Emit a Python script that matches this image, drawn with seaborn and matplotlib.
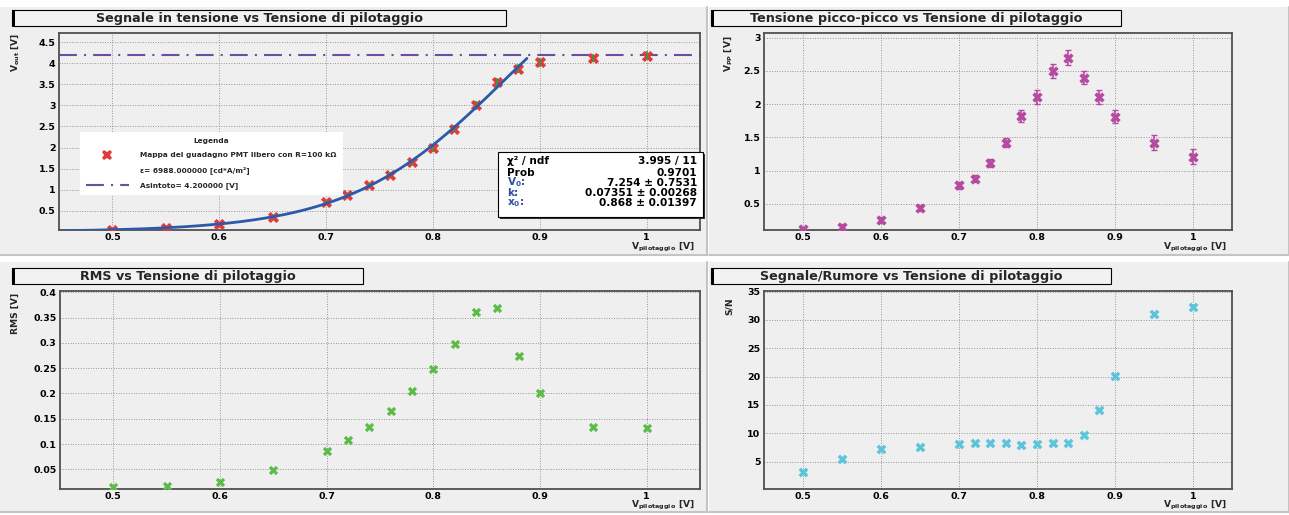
import numpy as np
import pandas as pd
import matplotlib
matplotlib.use("Agg")
import matplotlib.pyplot as plt
from matplotlib.patches import Rectangle
from matplotlib.lines import Line2D
from matplotlib.ticker import MultipleLocator, FuncFormatter
import seaborn as sns

# ---------------- data ----------------
v_pilot = [0.50, 0.55, 0.60, 0.65, 0.70, 0.72, 0.74, 0.76, 0.78, 0.80,
           0.82, 0.84, 0.86, 0.88, 0.90, 0.95, 1.00]
v_out = [0.05, 0.08, 0.18, 0.35, 0.70, 0.87, 1.10, 1.35, 1.65, 2.00,
         2.45, 3.00, 3.55, 3.87, 4.02, 4.12, 4.18]
v_out_err = [0.02, 0.02, 0.03, 0.04, 0.05, 0.05, 0.06, 0.06, 0.07, 0.08,
             0.09, 0.10, 0.11, 0.11, 0.10, 0.10, 0.11]
v_pp = [0.12, 0.16, 0.26, 0.44, 0.78, 0.88, 1.12, 1.42, 1.82, 2.11,
        2.50, 2.70, 2.40, 2.11, 1.81, 1.42, 1.21]
v_pp_err = [0.04, 0.04, 0.04, 0.04, 0.05, 0.05, 0.06, 0.07, 0.09, 0.10,
            0.10, 0.11, 0.10, 0.10, 0.10, 0.11, 0.11]
rms = [0.014, 0.017, 0.025, 0.048, 0.087, 0.107, 0.134, 0.165, 0.205, 0.248,
       0.297, 0.362, 0.368, 0.274, 0.200, 0.134, 0.131]
s_n = [3.1, 5.4, 7.3, 7.6, 8.1, 8.3, 8.3, 8.3, 8.0, 8.1,
       8.3, 8.3, 9.7, 14.2, 20.1, 31.1, 32.2]

# fit parameters (logistic) shown in the stats box
fit_V0 = 7.254
fit_k = 0.07351
fit_x0 = 0.868
fit_range = (0.45, 0.888)
asymptote = 4.2

titles = ["Segnale in tensione vs Tensione di pilotaggio",
          "Tensione picco-picco vs Tensione di pilotaggio",
          "RMS vs Tensione di pilotaggio",
          "Segnale/Rumore vs Tensione di pilotaggio"]
ylabels = ["V$_{out}$ [V]", "V$_{PP}$ [V]", "RMS [V]", "S/N"]
xlabel = "V$_{pilotaggio}$ [V]"
legend_title = "Legenda"
legend_labels = ["Mappa del guadagno PMT libero con R=100 kΩ",
                 "ε= 6988.000000 [cd*A/m²]",
                 "Asintoto= 4.200000 [V]"]
stats_names = ["χ² / ndf", "Prob", "V$_0$:", "k:", "x$_0$:"]
stats_values = ["3.995 / 11", "0.9701", "7.254 ± 0.7531",
                "0.07351 ± 0.00268", "0.868 ± 0.01397"]

df = pd.DataFrame({"v_pilot": v_pilot, "v_out": v_out, "v_pp": v_pp,
                   "rms": rms, "s_n": s_n})

# ---------------- style ----------------
sns.set_theme(style="white")
plt.rcParams["font.family"] = ["DejaVu Sans"]
plt.rcParams["font.weight"] = "bold"
plt.rcParams["mathtext.fontset"] = "dejavusans"
plt.rcParams["mathtext.default"] = "bf"

W, H = 1289, 515
fig = plt.figure(figsize=(W / 100, H / 100), dpi=100)
fig.patch.set_facecolor("white")

def fx(x):
    return x / W

def fy(y):
    return 1 - y / H

PAD = "#efefef"
# pads
for (x0, y0, x1, y1) in [(0, 7, 707, 255), (0, 262, 707, 512),
                         (709, 7, 1289, 255), (709, 262, 1289, 512)]:
    fig.patches.append(Rectangle((fx(x0), fy(y1)), fx(x1 - x0), (y1 - y0) / H,
                                 transform=fig.transFigure, facecolor=PAD,
                                 edgecolor="none", zorder=-5))
    fig.lines.append(Line2D([fx(x0), fx(x1)], [fy(y1), fy(y1)],
                            transform=fig.transFigure, color="#c4c4c4",
                            lw=1.5, zorder=-4))
    fig.lines.append(Line2D([fx(x1), fx(x1)], [fy(y0), fy(y1)],
                            transform=fig.transFigure, color="#c4c4c4",
                            lw=1.5, zorder=-4))

# axes rectangles in pixels (left, top, right, bottom)
rects = [(59, 33, 700, 230), (764, 33, 1232, 230),
         (60, 291, 700, 489), (764, 291, 1232, 489)]
axes = []
for (l, t, r, b) in rects:
    ax = fig.add_axes([fx(l), fy(b), (r - l) / W, (b - t) / H])
    ax.set_facecolor(PAD)
    axes.append(ax)

ylims = [(0.042, 4.72), (0.109, 3.07), (0.011, 0.4026), (0.18, 35.1)]
ymaj = [0.5, 0.5, 0.05, 5]
ymin_ = [0.1, 0.1, 0.01, 1]
fmt = FuncFormatter(lambda v, p: f"{v:g}")

for i, ax in enumerate(axes):
    ax.set_xlim(0.45, 1.05)
    ax.set_ylim(*ylims[i])
    ax.xaxis.set_major_locator(MultipleLocator(0.1))
    ax.xaxis.set_minor_locator(MultipleLocator(0.02))
    ax.yaxis.set_major_locator(MultipleLocator(ymaj[i]))
    ax.yaxis.set_minor_locator(MultipleLocator(ymin_[i]))
    ax.xaxis.set_major_formatter(fmt)
    ax.yaxis.set_major_formatter(fmt)
    ax.tick_params(which="both", direction="in", top=False, right=False,
                   labelsize=6.8, color="#333333", width=0.8,
                   labelcolor="black")
    ax.tick_params(axis="y", which="major", length=6.5, pad=2.5)
    ax.tick_params(axis="y", which="minor", length=3.5)
    ax.tick_params(axis="x", which="major", length=5, pad=2)
    ax.tick_params(axis="x", which="minor", length=3)
    ax.grid(True, which="major", linestyle=(0, (1, 1.6)), color="#959595",
            lw=0.7)
    for s in ax.spines.values():
        s.set_color("#505050")
        s.set_linewidth(1.3)
    ax.set_axisbelow(True)

# ---- panel 1: V_out ----
ax = axes[0]
ax.axhline(asymptote, color="#6a4fa0", lw=1.5,
           linestyle=(0, (8.6, 3.4, 1, 3.4)), zorder=2)
sns.scatterplot(data=df, x="v_pilot", y="v_out", marker="X", s=65,
                color="#e23a3a", linewidth=0, ax=ax, zorder=3, legend=False)
ax.errorbar(v_pilot, v_out, yerr=v_out_err, fmt="none", ecolor="#2e9e3e",
            elinewidth=1.2, capsize=0, zorder=4)
xf = np.linspace(fit_range[0], fit_range[1], 300)
yf = fit_V0 / (1 + np.exp(-(xf - fit_x0) / fit_k))
sns.lineplot(x=xf, y=yf, ax=ax, color="#2c5aa8", lw=2.0, sort=False,
             estimator=None, zorder=5)

handles = [Line2D([], [], marker="X", color="#e23a3a", linestyle="none",
                  markersize=7.5, markeredgewidth=0),
           Line2D([], [], linestyle="none"),
           Line2D([], [], color="#6a4fa0", lw=1.5,
                  linestyle=(0, (8.6, 3.4, 1, 3.4)))]
leg = ax.legend(handles, legend_labels, title=legend_title, loc="upper left",
                bbox_to_anchor=(fx(80), fy(132)), bbox_transform=fig.transFigure,
                frameon=True, facecolor="white", edgecolor="none",
                fancybox=False, framealpha=1, borderaxespad=0,
                prop={"size": 5.3, "weight": "bold"}, title_fontsize=5.3,
                handlelength=5.8, handletextpad=1.6, borderpad=0.8,
                labelspacing=1.1)
leg.get_title().set_fontweight("bold")
leg.set_zorder(6)

# ---- panel 2: V_pp ----
ax = axes[1]
ax.errorbar(v_pilot, v_pp, yerr=v_pp_err, fmt="none", ecolor="#b54aa0",
            elinewidth=1.2, capsize=2, capthick=1.0, zorder=3)
sns.scatterplot(data=df, x="v_pilot", y="v_pp", marker="X", s=55,
                color="#b54aa0", linewidth=0, ax=ax, zorder=4, legend=False)

# ---- panel 3: RMS ----
ax = axes[2]
sns.scatterplot(data=df, x="v_pilot", y="rms", marker="X", s=45,
                color="#5cbc4a", linewidth=0, ax=ax, zorder=4, legend=False)

# ---- panel 4: S/N ----
ax = axes[3]
sns.scatterplot(data=df, x="v_pilot", y="s_n", marker="X", s=50,
                color="#5ec4dc", linewidth=0, ax=ax, zorder=4, legend=False)

# axis labels
ylab_pos = [(-0.0686, 1.0), (-0.077, 0.99), (-0.0703, 0.99), (-0.0748, 0.97)]
xlab_pos = [(0.992, -0.088), (0.989, -0.087), (0.992, -0.083), (0.989, -0.083)]
for i, ax in enumerate(axes):
    ax.set_ylabel(ylabels[i], loc="top", fontsize=6.6, fontweight="bold")
    ax.yaxis.set_label_coords(*ylab_pos[i])
    ax.yaxis.label.set_va("center")
    ax.set_xlabel(xlabel, loc="right", fontsize=6.6, fontweight="bold")
    ax.xaxis.set_label_coords(*xlab_pos[i])
    ax.xaxis.label.set_va("center")

# title boxes
tboxes = [(12, 10, 506, 26), (711, 10, 1121, 26),
          (12, 268, 363, 284), (711, 268, 1111, 284)]
for (x0, y0, x1, y1), t in zip(tboxes, titles):
    fig.patches.append(Rectangle((fx(x0), fy(y1)), fx(x1 - x0), (y1 - y0) / H,
                                 transform=fig.transFigure, facecolor="#f2f2f2",
                                 edgecolor="black", lw=0.8, zorder=6))
    fig.patches.append(Rectangle((fx(x0), fy(y1)), fx(3), (y1 - y0) / H,
                                 transform=fig.transFigure, facecolor="black",
                                 edgecolor="none", zorder=7))
    fig.text(fx((x0 + x1) / 2), fy((y0 + y1) / 2 + 0.5), t, ha="center",
             va="center", fontsize=9.2, fontweight="bold", zorder=8)

# stats box
sx0, sy0, sx1, sy1 = 498, 152, 703, 217
fig.patches.append(Rectangle((fx(sx0 + 2), fy(sy1 + 2)), fx(sx1 - sx0), (sy1 - sy0) / H,
                             transform=fig.transFigure, facecolor="#333333",
                             edgecolor="none", zorder=9))
fig.patches.append(Rectangle((fx(sx0), fy(sy1)), fx(sx1 - sx0), (sy1 - sy0) / H,
                             transform=fig.transFigure, facecolor="white",
                             edgecolor="black", lw=0.8, zorder=10))
rows_y = [161, 172.5, 182.5, 193.5, 203.5]
name_colors = ["black", "black", "#3050a8", "#3050a8", "#3050a8"]
for yy, n, v, c in zip(rows_y, stats_names, stats_values, name_colors):
    fig.text(fx(507), fy(yy), n, ha="left", va="center", fontsize=7.6,
             fontweight="bold", color=c, zorder=11)
    fig.text(fx(697), fy(yy), v, ha="right", va="center", fontsize=7.6,
             fontweight="bold", color="black", zorder=11)

fig.savefig("out.png", dpi=100)
